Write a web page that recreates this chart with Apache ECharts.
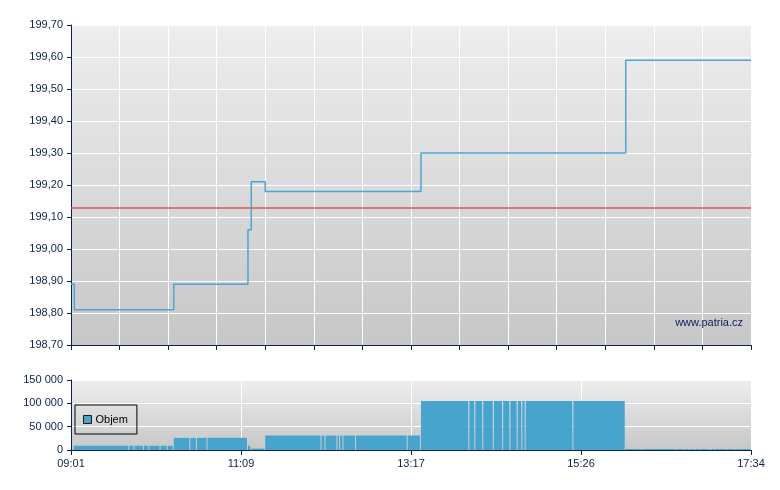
<!DOCTYPE html>
<html>
<head>
<meta charset="utf-8">
<script src="https://cdn.jsdelivr.net/npm/echarts@6/dist/echarts.min.js"></script>
<style>html,body{margin:0;padding:0;background:#fff}#c{width:780px;height:490px}</style>
</head>
<body>
<div id="c"></div>
<script>
// time in minutes after 09:01 (session 09:01 - 17:34 = 513 min)
const sessionLength = 513;
const timeLabels = ['09:01', '11:09', '13:17', '15:26', '17:34'];
const priceTicks = [198.7, 199.7, 0.1];
const refPrice = 199.13;
const priceTimes = [0, 2.5, 77.5, 133.5, 136, 146.5, 264, 418.5, 513];
const priceValues = [198.89, 198.81, 198.89, 199.06, 199.21, 199.18, 199.30, 199.59, 199.59];
const volTimes = [2, 44, 48, 55, 59, 67.5, 73, 77.5, 90, 95, 103, 133.5, 136, 146.5, 189, 192, 201, 203, 205.5, 215, 254, 264, 300.5, 305, 311, 319, 326, 331.5, 337, 340.5, 343, 379, 418.5, 431, 457, 463, 467, 471, 474.5, 481.5, 483.5, 486, 495, 502];
const volValues = [9000, 9000, 9000, 9000, 9000, 9000, 9000, 26000, 26000, 26000, 26000, 9000, 3000, 31000, 31000, 31000, 31000, 31000, 31000, 31000, 31000, 105000, 105000, 105000, 105000, 105000, 105000, 105000, 105000, 105000, 105000, 105000, 2000, 2000, 2000, 2000, 2000, 2000, 2000, 2000, 2000, 2000, 2000, 2000];

const priceData = priceTimes.map((t, i) => [t, priceValues[i]]);
const volData = volTimes.map((t, i) => [t, i + 1 < volTimes.length ? volTimes[i + 1] : sessionLength, volValues[i]]);

const FONT = 'Liberation Sans, Arial, sans-serif';
const NAVY = '#0c2150';
const bg = {type: 'linear', x: 0, y: 0, x2: 0, y2: 1, colorStops: [{offset: 0, color: '#eeeeee'}, {offset: 1, color: '#c7c7c7'}]};

const chart = echarts.init(document.getElementById('c'), null, {renderer: 'canvas'});
chart.setOption({
  animation: false,
  backgroundColor: '#ffffff',
  textStyle: {fontFamily: FONT},
  grid: [
    {left: 71, right: 29, top: 25, height: 320, show: true, backgroundColor: bg, borderWidth: 0},
    {left: 71, right: 29, top: 380, height: 70, show: true, backgroundColor: bg, borderWidth: 0}
  ],
  xAxis: [
    {type: 'value', gridIndex: 0, min: 0, max: sessionLength, interval: sessionLength / 14,
     axisLine: {lineStyle: {color: NAVY, width: 1}}, axisTick: {show: true, length: 5, lineStyle: {color: NAVY}},
     axisLabel: {show: false}, splitLine: {show: true, lineStyle: {color: '#ffffff', width: 1}}},
    {type: 'value', gridIndex: 1, min: 0, max: sessionLength, interval: sessionLength / 4,
     axisLine: {lineStyle: {color: NAVY, width: 1}}, axisTick: {show: true, length: 5, lineStyle: {color: NAVY}},
     axisLabel: {color: NAVY, fontSize: 11, fontFamily: FONT, margin: 8,
       formatter: v => timeLabels[Math.round(v / (sessionLength / 4))] || ''},
     splitLine: {show: true, lineStyle: {color: '#ffffff', width: 1}}}
  ],
  yAxis: [
    {type: 'value', gridIndex: 0, min: priceTicks[0], max: priceTicks[1], interval: priceTicks[2],
     axisLine: {show: true, lineStyle: {color: NAVY, width: 1}}, axisTick: {show: true, length: 4, lineStyle: {color: NAVY}},
     axisLabel: {color: NAVY, fontSize: 11, fontFamily: FONT, margin: 8,
       formatter: v => v.toFixed(2).replace('.', ',')},
     splitLine: {show: true, lineStyle: {color: '#ffffff', width: 1}}},
    {type: 'value', gridIndex: 1, min: 0, max: 150000, interval: 50000,
     axisLine: {show: true, lineStyle: {color: NAVY, width: 1}}, axisTick: {show: true, length: 4, lineStyle: {color: NAVY}},
     axisLabel: {color: NAVY, fontSize: 11, fontFamily: FONT, margin: 8,
       formatter: v => String(Math.round(v)).replace(/\B(?=(\d{3})+(?!\d))/g, ' ')},
     splitLine: {show: true, lineStyle: {color: '#ffffff', width: 1}}}
  ],
  legend: {
    data: ['Objem'], left: 75, top: 405, orient: 'vertical',
    padding: [9, 9, 9, 8], borderColor: '#000', borderWidth: 1, borderRadius: 0, backgroundColor: 'transparent',
    icon: 'rect', itemWidth: 8, itemHeight: 8, itemGap: 0,
    itemStyle: {borderColor: '#1a1a1a', borderWidth: 1},
    textStyle: {color: '#000', fontSize: 11, fontFamily: FONT, padding: [0, 0, 0, -1]},
    selectedMode: false
  },
  graphic: [{
    type: 'text', z: 50,
    style: {text: 'www.patria.cz', x: 743, y: 323, textAlign: 'right', textVerticalAlign: 'middle',
      fill: NAVY, font: '11px Liberation Sans, Arial, sans-serif'}
  }],
  series: [
    {name: 'Cena', type: 'line', xAxisIndex: 0, yAxisIndex: 0, data: priceData, step: 'end',
     showSymbol: false, lineStyle: {color: '#4aa6d6', width: 1.5},
     markLine: {silent: true, symbol: 'none', label: {show: false},
       lineStyle: {color: '#d25a5a', width: 1.5, type: 'solid'}, data: [{yAxis: refPrice}]}},
    {name: 'Objem', type: 'custom', xAxisIndex: 1, yAxisIndex: 1, data: volData,
     itemStyle: {color: '#47a5cd'},
     encode: {x: [0, 1], y: 2},
     renderItem: function (params, api) {
       const s = api.coord([api.value(0), api.value(2)]);
       const e = api.coord([api.value(1), 0]);
       return {type: 'rect', shape: {x: s[0], y: s[1], width: Math.max(e[0] - s[0] - 1, 0.5), height: e[1] - s[1]},
         style: {fill: '#47a5cd'}};
     }}
  ]
});
</script>
</body>
</html>
